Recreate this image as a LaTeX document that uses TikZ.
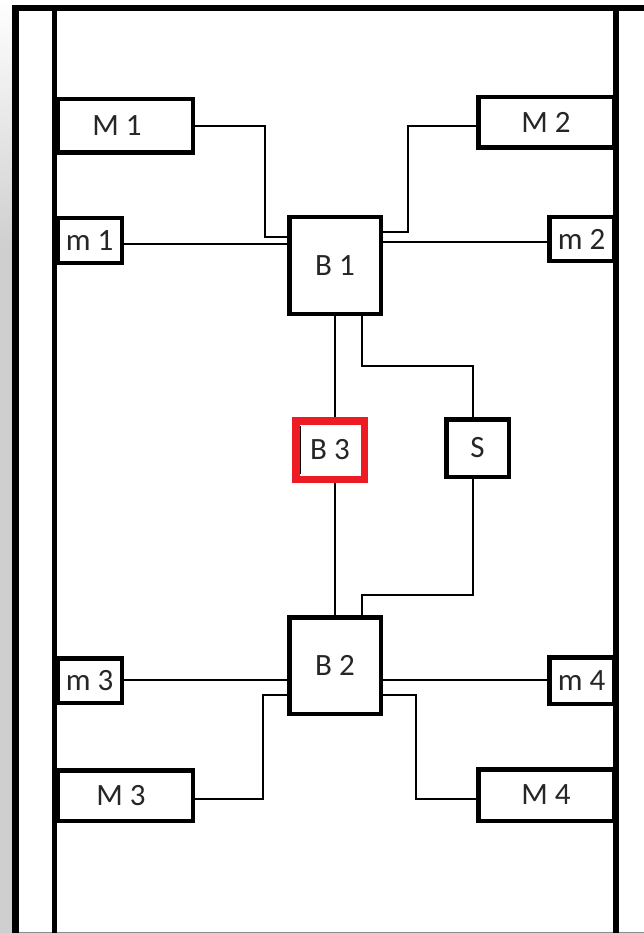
\documentclass[tikz,border=0pt]{standalone}
\usepackage{fontspec}
\setmainfont{Carlito}
\definecolor{bred}{HTML}{ED1C24}
\begin{document}
\begin{tikzpicture}[x=1pt,y=-1pt,
  box/.style={draw, line width=4.5pt, fill=white, inner sep=0pt, text=black!85, font=\fontsize{31}{36}\selectfont},
  redbox/.style={box, draw=bred, line width=7.5pt},
  wire/.style={line width=1.3pt},
  frame/.style={line width=#1}]
\useasboundingbox (0,0) rectangle (644,933);
% left gray strip
\fill[black!19] (0,250) rectangle (12,933);
\shade[top color=white, bottom color=black!19] (0,0) rectangle (12,250);
\draw[black!45, line width=0.8pt] (12,932.6) -- (644,932.6);
% frame lines
\draw[frame=6pt] (12,8) -- (644,8);
\draw[frame=7pt] (15.5,5) -- (15.5,933);
\draw[frame=5pt] (54.5,8) -- (54.5,933);
\draw[frame=6pt] (616,8) -- (616,933);

% boxes
\node[box, minimum width=135.5pt, minimum height=53.5pt] (M1) at (125,126) {\hspace*{-16pt}M 1};
\node[box, minimum width=135.5pt, minimum height=50.5pt] (M2) at (546,122.5) {M 2};
\node[box, minimum width=64.5pt, minimum height=44.5pt] (m1) at (89.5,240.5) {m 1};
\node[box, minimum width=64.5pt, minimum height=43.5pt] (m2) at (581.5,239) {m 2};
\node[box, minimum width=91.5pt, minimum height=96.5pt] (B1) at (335,265.5) {B 1};
\node[redbox, minimum width=68.5pt, minimum height=58.5pt] (B3) at (330,450) {B 3};
\node[box, minimum width=62.5pt, minimum height=57.5pt] (S) at (477.5,448) {S};
\node[box, minimum width=91.5pt, minimum height=96.5pt] (B2) at (335,665.5) {B 2};
\node[box, minimum width=64.5pt, minimum height=44.5pt] (m3) at (89.5,680.5) {m 3};
\node[box, minimum width=64.5pt, minimum height=46.5pt] (m4) at (581.5,680.5) {m 4};
\node[box, minimum width=135.5pt, minimum height=50.5pt] (M3) at (125,795.5) {\hspace*{-8pt}M 3};
\node[box, minimum width=135.5pt, minimum height=51.5pt] (M4) at (546,795) {M 4};
% dark inner edge of B3
\draw[line width=1.6pt] (300.4,426) -- (300.4,474);

% junction coordinates
\coordinate (a1) at (265,126);
\coordinate (a2) at (265,237);
\coordinate (b1) at (408,126);
\coordinate (b2) at (408,232);
\coordinate (c1) at (0,244);
\coordinate (c2) at (0,242);
\coordinate (v1) at (335,0);
\coordinate (k1) at (362,366);
\coordinate (k2) at (473,366);
\coordinate (k3) at (473,595);
\coordinate (k4) at (362,595);
\coordinate (c3) at (0,680);
\coordinate (d1) at (263,695);
\coordinate (d2) at (263,799);
\coordinate (e1) at (416,695);
\coordinate (e2) at (416,799);

% connectors
\draw[wire] (M1.east |- a1) -- (a1) -- (a2) -- (B1.west |- a2);
\draw[wire] (M2.west |- b1) -- (b1) -- (b2) -- (B1.east |- b2);
\draw[wire] (m1.east |- c1) -- (B1.west |- c1);
\draw[wire] (B1.east |- c2) -- (m2.west |- c2);
\draw[wire] (B1.south -| v1) -- (B3.north -| v1);
\draw[wire] (B1.south -| k1) -- (k1) -- (k2) -- (S.north -| k2);
\draw[wire] (S.south -| k3) -- (k3) -- (k4) -- (B2.north -| k4);
\draw[wire] (B3.south -| v1) -- (B2.north -| v1);
\draw[wire] (m3.east |- c3) -- (B2.west |- c3);
\draw[wire] (B2.east |- c3) -- (m4.west |- c3);
\draw[wire] (B2.west |- d1) -- (d1) -- (d2) -- (M3.east |- d2);
\draw[wire] (B2.east |- e1) -- (e1) -- (e2) -- (M4.west |- e2);
\end{tikzpicture}
\end{document}
